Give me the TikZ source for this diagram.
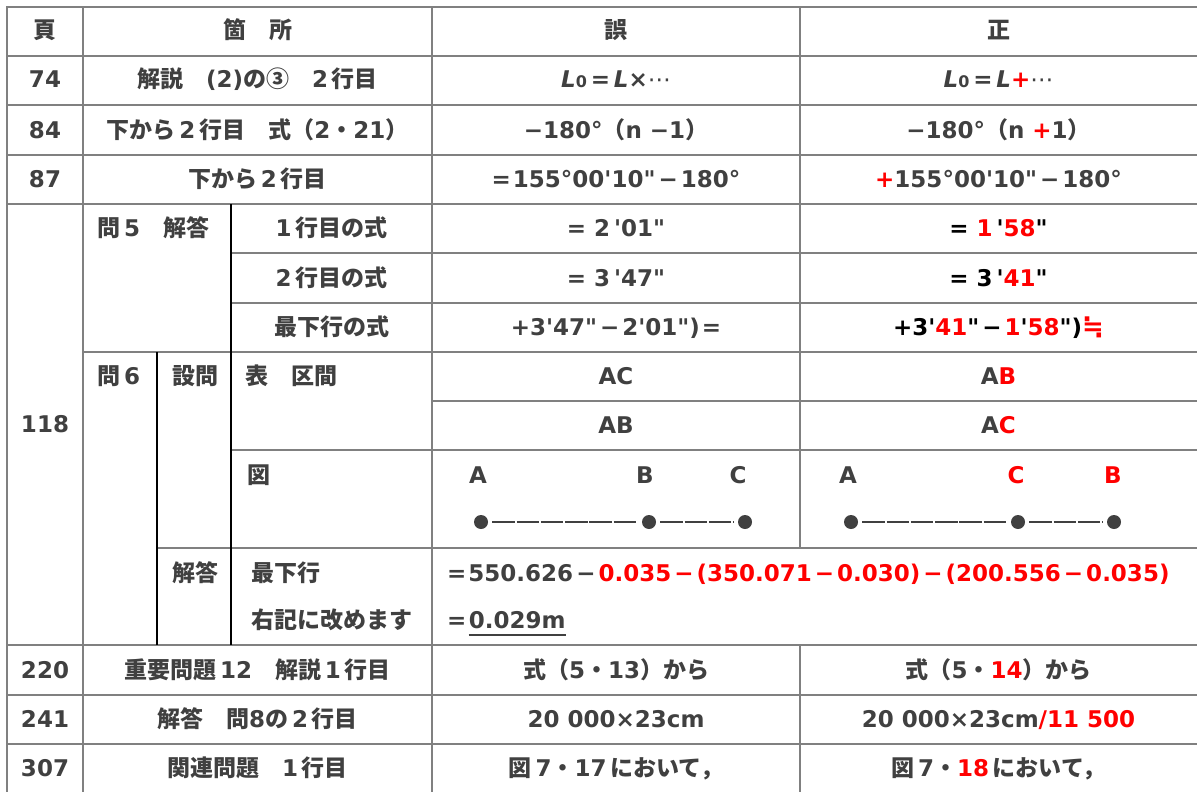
\documentclass[tikz,border=0pt]{standalone}
\usepackage{fontspec}
\setmainfont{DejaVu Sans}[Ligatures=TeXOff]
\newfontfamily\jpfont{Noto Sans CJK JP}
\newfontfamily\symfont{DejaVu Sans}
\definecolor{txtgray}{HTML}{404040}
\definecolor{rulegray}{HTML}{808080}
\definecolor{errred}{HTML}{FF0000}
\newcommand{\jp}[1]{{\jpfont #1}}
\newcommand{\rd}[1]{\textcolor{errred}{#1}}
\newcommand{\bk}[1]{\textcolor{black}{#1}}
\newcommand{\mn}{\kern3pt−\kern3pt}
\newcommand{\lzero}{\textit{L}{\fontsize{16}{16}\selectfont 0}}

\begin{document}
\begin{tikzpicture}[x=1pt,y=-1pt,font=\fontsize{23}{27}\selectfont\bfseries,
    txt/.style={anchor=base,inner sep=0pt,text=txtgray},
    lft/.style={txt,anchor=base west},
    rule/.style={draw=rulegray,line width=2pt,line cap=rect},
    bar/.style={draw=black,line width=1.6pt},
    dot/.style={circle,fill=txtgray,minimum size=14pt,inner sep=0pt},
    seg/.style={draw=txtgray,line width=2pt,dash pattern=on 22.5pt off 1.8pt,shorten <=4pt,shorten >=4pt}]
    \useasboundingbox (0,0) rectangle (1197,792);
    % grid
    \foreach \y in {7,56,105,155,204,645,695,744} \draw[rule] (7,\y) -- (1197,\y);
    \foreach \y in {253,303,450} \draw[rule] (231,\y) -- (1197,\y);
    \draw[rule] (83,352) -- (1197,352) (432,401) -- (1197,401) (157,548) -- (1197,548);
    \foreach \x in {7,83,432} \draw[rule] (\x,7) -- (\x,792);
    \draw[rule] (800,7) -- (800,548) (800,645) -- (800,792);
    \draw[bar] (231,204) -- (231,645) (157,352) -- (157,645);
    % header
    \node[txt] (hpage) at (45,39) {\jp{頁}};
    \node[txt] (hplace) at (257.5,39) {\jp{箇　所}};
    \node[txt] (hwrong) at (616,39) {\jp{誤}};
    \node[txt] (hright) at (998.5,39) {\jp{正}};
    \foreach \n/\y in {74/88,84/138,87/187.5,118/432.5,220/678,241/727.5,307/776}
        \node[txt] (p\n) at (45,\y) {\n};
    % single rows
    \node[txt] (s74) at (257.5,88) {\jp{解説　}(2)\jp{の③　}2\,\jp{行目}};
    \node[txt] (w74) at (616,88) {\lzero\,=\,\textit{L}×{\symfont\mdseries ⋯}};
    \node[txt] (r74) at (998.5,88) {\lzero\,=\,\textit{L}\rd{+}{\symfont\mdseries ⋯}};
    \node[txt] (s84) at (257.5,138) {\jp{下から}\,2\,\jp{行目　式（}2\jp{・}21\jp{）}};
    \node[txt] (w84) at (616,138) {−180°\jp{（}n −1\jp{）}};
    \node[txt] (r84) at (998.5,138) {−180°\jp{（}n \rd{+}1\jp{）}};
    \node[txt] (s87) at (257.5,187.5) {\jp{下から}\,2\,\jp{行目}};
    \node[txt] (w87) at (616,187.5) {=\kern2pt 155°00'10"\mn 180°};
    \node[txt] (r87) at (998.5,187.5) {\rd{+}155°00'10"\mn 180°};
    % page 118
    \node[lft] (q5) at (97,236.5) {\jp{問}\,5\jp{　解答}};
    \node[txt] (l1) at (331.5,236.5) {1\,\jp{行目の式}};
    \node[txt] (l2) at (331.5,286) {2\,\jp{行目の式}};
    \node[txt] (l3) at (331.5,335.5) {\jp{最下行の式}};
    \node[txt] (w1) at (616,236.5) {= 2\,'01"};
    \node[txt] (r1) at (998.5,236.5) {\bk{=} \rd{1}\,\bk{'}\rd{58}\bk{"}};
    \node[txt] (w2) at (616,286) {= 3\,'47"};
    \node[txt] (r2) at (998.5,286) {\bk{= 3\,'}\rd{41}\bk{"}};
    \node[txt] (w3) at (616,335.5) {+3'47"\mn 2'01")\kern2pt=};
    \node[txt] (r3) at (998.5,335.5) {\bk{+3'}\rd{41}\bk{"\mn}\rd{1}\bk{'}\rd{58}\bk{")}\rd{\fontsize{26}{27}\selectfont ≒}};
    \node[lft] (q6) at (97,384.5) {\jp{問}\,6};
    \node[lft] (ask) at (172,384.5) {\jp{設問}};
    \node[lft] (tbl) at (245,384.5) {\jp{表　区間}};
    \node[txt] (wac) at (616,384.5) {AC};
    \node[txt] (rab) at (998.5,384.5) {A\rd{B}};
    \node[txt] (wab) at (616,433.5) {AB};
    \node[txt] (rac) at (998.5,433.5) {A\rd{C}};
    \node[lft] (fig) at (247,483) {\jp{図}};
    \node[txt] (wA) at (478,483) {A};
    \node[txt] (wB) at (645,483) {B};
    \node[txt] (wC) at (738,483) {C};
    \node[txt] (rA) at (848,483) {A};
    \node[txt,text=errred] (rC) at (1016,483) {C};
    \node[txt,text=errred] (rB) at (1113,483) {B};
    \node[dot] (dwA) at (481,522) {};
    \node[dot] (dwB) at (649,522) {};
    \node[dot] (dwC) at (745,522) {};
    \node[dot] (drA) at (851,522) {};
    \node[dot] (drC) at (1018,522) {};
    \node[dot] (drB) at (1114,522) {};
    \draw[seg] (dwA) -- (dwB);
    \draw[seg] (dwB) -- (dwC);
    \draw[seg] (drA) -- (drC);
    \draw[seg] (drC) -- (drB);
    \node[lft] (ans) at (172,581) {\jp{解答}};
    \node[lft] (last) at (251,581) {\jp{最下行}};
    \node[lft] (fix) at (251,628) {\jp{右記に改めます}};
    \node[lft] (frm) at (447,581) {=\kern2pt 550.626\mn\rd{0.035\mn(350.071\mn 0.030)\mn(200.556\mn 0.035)}};
    \node[lft] (eq) at (447,628) {=\kern2pt};
    \node[lft] (res) at (eq.base east) {0.029m};
    \draw[txtgray,line width=1.6pt] ([yshift=-7pt]res.base west) -- ([yshift=-7pt]res.base east);
    % lower rows
    \node[txt] (s220) at (257.5,678) {\jp{重要問題}\,12\jp{　解説}\,1\,\jp{行目}};
    \node[txt] (w220) at (616,678) {\jp{式（}5\jp{・}13\jp{）から}};
    \node[txt] (r220) at (998.5,678) {\jp{式（}5\jp{・}\rd{14}\jp{）から}};
    \node[txt] (s241) at (257.5,727.5) {\jp{解答　問}8\jp{の}\,2\,\jp{行目}};
    \node[txt] (w241) at (616,727.5) {20 000×23cm};
    \node[txt] (r241) at (998.5,727.5) {20 000×23cm\rd{/11 500}};
    \node[txt] (s307) at (257.5,776) {\jp{関連問題　}1\,\jp{行目}};
    \node[txt] (w307) at (616,776) {\jp{図}\,7\jp{・}17\,\jp{において，}};
    \node[txt] (r307) at (998.5,776) {\jp{図}\,7\jp{・}\rd{18}\,\jp{において，}};
\end{tikzpicture}
\end{document}
